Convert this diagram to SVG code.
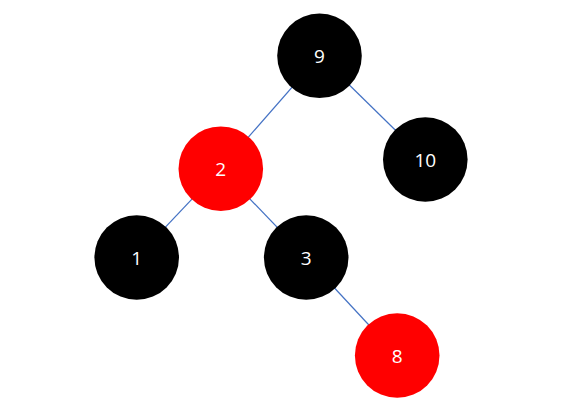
<svg xmlns="http://www.w3.org/2000/svg" width="576" height="410" viewBox="0 0 576 410">
<style>
.b{fill:#000000}
.r{fill:#ff0000}
.e{stroke:#4472c4;stroke-width:1.2;fill:none}
text{font-family:"Open Sans","Liberation Sans",sans-serif;font-size:19px;fill:#ffffff;text-anchor:middle;dominant-baseline:central}
</style>
<rect width="576" height="410" fill="#ffffff"/>
<g id="connectors">
<line class="e" x1="319.5" y1="55.8" x2="220.8" y2="168.7"/>
<line class="e" x1="319.5" y1="55.8" x2="425.3" y2="159.5"/>
<line class="e" x1="220.8" y1="168.7" x2="136.7" y2="257.5"/>
<line class="e" x1="220.8" y1="168.7" x2="306.2" y2="257.5"/>
<line class="e" x1="306.2" y1="257.5" x2="397.2" y2="355.5"/>
</g>
<g id="n9"><circle class="b" cx="319.5" cy="55.8" r="42.3"/><text x="319.5" y="55.8">9</text></g>
<g id="n10"><circle class="b" cx="425.3" cy="159.5" r="42.3"/><text x="425.3" y="159.5">10</text></g>
<g id="n2"><circle class="r" cx="220.8" cy="168.7" r="42.3"/><text x="220.8" y="168.7">2</text></g>
<g id="n1"><circle class="b" cx="136.7" cy="257.5" r="42.3"/><text x="136.7" y="257.5">1</text></g>
<g id="n3"><circle class="b" cx="306.2" cy="257.5" r="42.3"/><text x="306.2" y="257.5">3</text></g>
<g id="n8"><circle class="r" cx="397.2" cy="355.5" r="42.3"/><text x="397.2" y="355.5">8</text></g>
</svg>
